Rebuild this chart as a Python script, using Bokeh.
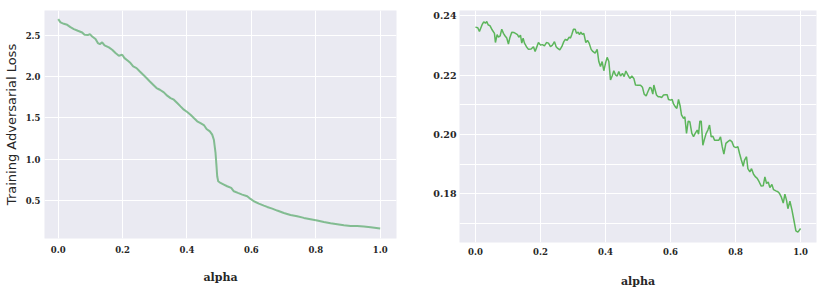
from bokeh.plotting import figure
from bokeh.layouts import row
from bokeh.models import FixedTicker, Range1d
from bokeh.embed import file_html
from bokeh.resources import INLINE

# ---- data: left panel (training adversarial loss vs alpha)
left_alpha = [0.0, 0.0072, 0.0176, 0.028, 0.038, 0.0487, 0.061, 0.0745, 0.0818, 0.0921,
              0.0983, 0.1056, 0.1159, 0.1232, 0.1294, 0.1366, 0.1439, 0.1573, 0.1677, 0.178,
              0.1884, 0.1988, 0.206, 0.2164, 0.2246, 0.2329, 0.2433, 0.2536, 0.264, 0.2743,
              0.2847, 0.295, 0.3054, 0.3157, 0.3282, 0.3385, 0.3489, 0.3592, 0.3696, 0.3799,
              0.3903, 0.4006, 0.411, 0.4213, 0.4317, 0.442, 0.4524, 0.4607, 0.471, 0.4783,
              0.4834, 0.4886, 0.4917, 0.4938, 0.4969, 0.5041, 0.5145, 0.5248, 0.5373, 0.5455,
              0.558, 0.5714, 0.587, 0.5973, 0.6077, 0.6232, 0.6387, 0.6491, 0.6646, 0.6801,
              0.7008, 0.7215, 0.7422, 0.7629, 0.7836, 0.8043, 0.8251, 0.8458, 0.8665, 0.8872,
              0.9079, 0.9286, 0.9493, 0.97, 1.0]
left_loss = [2.698, 2.658, 2.641, 2.629, 2.601, 2.577, 2.557, 2.536, 2.508, 2.504,
             2.516, 2.488, 2.456, 2.407, 2.395, 2.416, 2.379, 2.355, 2.326, 2.286,
             2.254, 2.266, 2.225, 2.193, 2.165, 2.124, 2.104, 2.063, 2.023, 1.983,
             1.942, 1.902, 1.862, 1.841, 1.809, 1.769, 1.740, 1.720, 1.680, 1.639,
             1.599, 1.571, 1.538, 1.498, 1.458, 1.437, 1.413, 1.365, 1.336, 1.296,
             1.235, 1.074, 0.912, 0.791, 0.730, 0.710, 0.690, 0.670, 0.650, 0.609,
             0.589, 0.569, 0.549, 0.516, 0.488, 0.460, 0.435, 0.419, 0.399, 0.375,
             0.346, 0.322, 0.306, 0.286, 0.270, 0.254, 0.237, 0.221, 0.209, 0.197,
             0.189, 0.189, 0.181, 0.173, 0.157]

# ---- data: right panel
right_alpha = [0.0, 0.0072, 0.0123, 0.0205, 0.0256, 0.0308, 0.0349, 0.039, 0.0451, 0.0513,
               0.0585, 0.0615, 0.0667, 0.0708, 0.0759, 0.081, 0.0862, 0.0913, 0.0964, 0.1015,
               0.1056, 0.1118, 0.1179, 0.1231, 0.1292, 0.1333, 0.1385, 0.1426, 0.1467, 0.1508,
               0.1569, 0.1631, 0.1713, 0.1785, 0.1836, 0.1877, 0.1938, 0.2, 0.2062, 0.2123,
               0.2185, 0.2246, 0.2308, 0.2369, 0.2431, 0.2482, 0.2533, 0.2595, 0.2656, 0.2718,
               0.2769, 0.2821, 0.2882, 0.2923, 0.2964, 0.3015, 0.3067, 0.3108, 0.3159, 0.32,
               0.3241, 0.3292, 0.3333, 0.3395, 0.3446, 0.3497, 0.3559, 0.361, 0.3682, 0.3744,
               0.3795, 0.3846, 0.3897, 0.3949, 0.4, 0.4051, 0.4103, 0.4154, 0.4205, 0.4256,
               0.4308, 0.4359, 0.441, 0.4462, 0.4523, 0.4574, 0.4626, 0.4687, 0.4749, 0.481,
               0.4872, 0.4923, 0.4995, 0.5077, 0.5138, 0.519, 0.5251, 0.5303, 0.5364, 0.5405,
               0.5456, 0.5487, 0.5528, 0.5569, 0.5621, 0.5672, 0.5733, 0.5785, 0.5846, 0.5897,
               0.5938, 0.6, 0.6051, 0.6092, 0.6144, 0.6195, 0.6246, 0.6297, 0.6338, 0.64,
               0.6441, 0.6492, 0.6544, 0.6595, 0.6656, 0.6708, 0.6759, 0.6821, 0.6862, 0.6903,
               0.6944, 0.6995, 0.7036, 0.7097, 0.7149, 0.72, 0.7251, 0.7303, 0.7354, 0.7436,
               0.7487, 0.7538, 0.759, 0.7641, 0.7703, 0.7764, 0.7826, 0.7887, 0.7949, 0.801,
               0.8072, 0.8123, 0.8174, 0.8236, 0.8277, 0.8338, 0.8379, 0.8441, 0.8492, 0.8554,
               0.8615, 0.8667, 0.8728, 0.879, 0.8851, 0.8903, 0.8954, 0.9005, 0.9056, 0.9118,
               0.9169, 0.9241, 0.9303, 0.9354, 0.9405, 0.9467, 0.9518, 0.9569, 0.961, 0.9672,
               0.9733, 0.9795, 0.9856, 0.9918, 1.0]
right_value = [0.2362, 0.2360, 0.2347, 0.2370, 0.2380, 0.2375, 0.2381, 0.2370, 0.2366, 0.2353,
               0.2341, 0.2310, 0.2337, 0.2328, 0.2332, 0.2355, 0.2341, 0.2332, 0.2325, 0.2305,
               0.2325, 0.2345, 0.2344, 0.2341, 0.2337, 0.2328, 0.2335, 0.2308, 0.2325, 0.2308,
               0.2296, 0.2287, 0.2288, 0.2296, 0.2280, 0.2292, 0.2310, 0.2302, 0.2303, 0.2299,
               0.2310, 0.2308, 0.2296, 0.2301, 0.2313, 0.2296, 0.2290, 0.2285, 0.2296, 0.2313,
               0.2321, 0.2317, 0.2328, 0.2325, 0.2337, 0.2355, 0.2355, 0.2341, 0.2345, 0.2337,
               0.2345, 0.2337, 0.2341, 0.2310, 0.2317, 0.2308, 0.2287, 0.2280, 0.2274, 0.2287,
               0.2246, 0.2229, 0.2246, 0.2215, 0.2240, 0.2260, 0.2246, 0.2184, 0.2197, 0.2215,
               0.2201, 0.2197, 0.2212, 0.2197, 0.2206, 0.2195, 0.2214, 0.2201, 0.2189, 0.2197,
               0.2189, 0.2167, 0.2166, 0.2166, 0.2159, 0.2136, 0.2130, 0.2144, 0.2159, 0.2156,
               0.2136, 0.2167, 0.2150, 0.2133, 0.2127, 0.2127, 0.2125, 0.2133, 0.2134, 0.2134,
               0.2118, 0.2116, 0.2118, 0.2103, 0.2094, 0.2088, 0.2118, 0.2096, 0.2066, 0.2054,
               0.2060, 0.2004, 0.2045, 0.2043, 0.2004, 0.1993, 0.2004, 0.2015, 0.2001, 0.2045,
               0.2045, 0.1964, 0.1981, 0.2004, 0.2015, 0.2032, 0.1992, 0.1994, 0.1981, 0.1981,
               0.1981, 0.1992, 0.1959, 0.1934, 0.1970, 0.1976, 0.1981, 0.1976, 0.1959, 0.1956,
               0.1959, 0.1936, 0.1916, 0.1893, 0.1914, 0.1925, 0.1885, 0.1874, 0.1885, 0.1866,
               0.1857, 0.1852, 0.1840, 0.1826, 0.1827, 0.1857, 0.1835, 0.1840, 0.1821, 0.1832,
               0.1814, 0.1810, 0.1807, 0.1801, 0.1790, 0.1769, 0.1799, 0.1778, 0.1750, 0.1775,
               0.1747, 0.1711, 0.1675, 0.1671, 0.1683]

x_ticks = [0.0, 0.2, 0.4, 0.6, 0.8, 1.0]
left_y_ticks = [0.5, 1.0, 1.5, 2.0, 2.5]
right_y_ticks = [0.18, 0.20, 0.22, 0.24]
right_y_minor = [0.17, 0.19, 0.21, 0.23]

BG = "#EAEAF2"
TICK_FONT = "DejaVu Serif"
TXT = "#262626"


def style(p):
    p.background_fill_color = BG
    p.border_fill_color = "white"
    p.outline_line_color = None
    for ax in (p.xaxis[0], p.yaxis[0]):
        ax.axis_line_color = None
        ax.major_tick_line_color = None
        ax.minor_tick_line_color = None
        ax.major_tick_out = 0
        ax.minor_tick_out = 0
        ax.major_label_text_font = TICK_FONT
        ax.major_label_text_font_style = "bold"
        ax.major_label_text_font_size = "8.5px"
        ax.major_label_text_color = TXT
    p.xgrid.grid_line_color = "white"
    p.ygrid.grid_line_color = "white"
    p.xgrid.grid_line_width = 1
    p.ygrid.grid_line_width = 1
    p.xaxis.axis_label = "alpha"
    p.xaxis.axis_label_text_font = TICK_FONT
    p.xaxis.axis_label_text_font_style = "bold"
    p.xaxis.axis_label_text_font_size = "11px"
    p.xaxis.axis_label_text_color = TXT
    p.xaxis.ticker = FixedTicker(ticks=x_ticks)
    p.xaxis.major_label_overrides = {t: f"{t:.1f}" for t in x_ticks}


# left figure
p1 = figure(frame_width=352, frame_height=228, min_border_left=36, min_border_right=25,
            min_border_top=10, min_border_bottom=40, output_backend="svg",
            toolbar_location=None, x_range=Range1d(-0.0425, 1.0506), y_range=Range1d(0.036, 2.8027))
style(p1)
p1.xaxis.major_label_standoff = 7
p1.xaxis.axis_label_standoff = 15
p1.yaxis.ticker = FixedTicker(ticks=left_y_ticks)
p1.yaxis.major_label_overrides = {t: f"{t:.1f}" for t in left_y_ticks}
p1.yaxis.major_label_standoff = 4
p1.yaxis.axis_label = "Training Adversarial Loss"
p1.yaxis.axis_label_text_font = "DejaVu Sans"
p1.yaxis.axis_label_text_font_style = "normal"
p1.yaxis.axis_label_text_font_size = "13px"
p1.yaxis.axis_label_text_color = TXT
p1.yaxis.axis_label_standoff = 4
p1.line(left_alpha, left_loss, line_color="#55a868", line_alpha=0.7, line_width=2)

# right figure
p2 = figure(frame_width=357, frame_height=232, min_border_left=38, min_border_right=8,
            min_border_top=10, min_border_bottom=40, output_backend="svg",
            toolbar_location=None, x_range=Range1d(-0.049, 1.049), y_range=Range1d(0.1636, 0.2418))
style(p2)
p2.xaxis.major_label_standoff = 5
p2.xaxis.axis_label_standoff = 17
p2.yaxis.ticker = FixedTicker(ticks=right_y_ticks, minor_ticks=right_y_minor)
p2.yaxis.major_label_overrides = {t: f"{t:.2f}" for t in right_y_ticks}
p2.yaxis.major_label_standoff = 3
p2.yaxis.major_label_text_font_size = "9.5px"
p2.ygrid.minor_grid_line_color = "white"
p2.ygrid.minor_grid_line_width = 1
p2.line(right_alpha, right_value, line_color="#4daf4a", line_alpha=0.9, line_width=1.5)

layout = row(p1, p2)
open("out.html", "w").write(file_html(layout, INLINE))
